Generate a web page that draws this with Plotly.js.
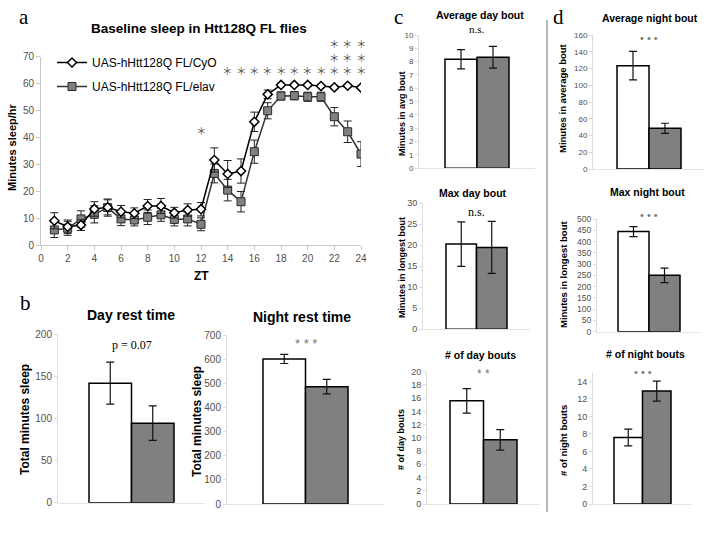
<!DOCTYPE html>
<html><head><meta charset="utf-8">
<script src="https://cdn.plot.ly/plotly-3.0.1.min.js"></script>
<style>body{margin:0;background:#fff;} #chart{width:720px;height:540px;}</style>
</head><body><div id="chart"></div>
<script>
// ---------- data: panel a ----------
const zt = [1,2,3,4,5,6,7,8,9,10,11,12,13,14,15,16,17,18,19,20,21,22,23,24];
const cyoMean = [9.0,6.8,7.4,13.4,14.0,12.4,11.8,14.5,14.5,12.0,13.0,13.3,31.6,26.4,27.5,45.8,56.0,59.5,59.5,59.5,59.1,58.6,59.2,58.5];
const cyoErr  = [3.0,2.5,2.0,2.7,2.8,2.3,2.0,2.4,2.8,2.0,2.3,2.5,4.5,5.0,4.5,3.6,1.6,0.6,0.6,0.6,0.6,0.6,0.5,0.6];
const elavMean = [5.6,6.2,9.7,11.4,13.9,9.7,9.3,10.3,11.2,9.5,9.7,7.7,26.6,20.4,16.1,34.7,49.9,55.4,55.5,55.1,55.1,47.7,42.1,33.8];
const elavErr  = [2.8,2.6,3.0,3.2,3.2,2.5,2.2,2.7,2.4,2.4,2.6,2.4,3.5,4.0,3.8,4.3,3.0,1.5,1.5,1.7,1.7,3.4,4.0,4.6];
const seriesNames = ['UAS-hHtt128Q FL/CyO', 'UAS-hHtt128Q FL/elav'];
const sigZT    = [12,14,15,16,17,18,19,20,21,22,23,24];
const sigStars = [1,1,1,1,1,1,1,1,1,3,3,3];

// ---------- data: bar panels b, c, d ----------
const panelTitles = ['Day rest time','Night rest time','Average day bout','Max day bout','# of day bouts','Average night bout','Max night bout','# of night bouts'];
const yTitles = ['Total minutes sleep','Total minutes sleep','Minutes in avg bout','Minutes in longest bout','# of day bouts','Minutes in average bout','Minutes in longest bout','# of night bouts'];
const cyoBar     = [142, 601, 8.18, 20.3, 15.6, 123.4, 444, 7.6];
const cyoBarErr  = [25, 19, 0.72, 5.3, 1.85, 17, 22, 0.95];
const elavBar    = [94.5, 486, 8.33, 19.5, 9.7, 48.6, 250, 12.9];
const elavBarErr = [20.5, 30, 0.81, 6.2, 1.55, 6, 32, 1.14];
const sigLabels  = ['p = 0.07','* * *','n.s.','n.s.','* *','• • •','• • •','• • •'];
const yMax  = [200, 700, 10, 30, 20, 160, 500, 15];
const yStep = [50, 100, 1, 5, 2, 20, 50, 2];

// ---------- layout geometry (pixels) ----------
const W = 720, H = 540;
const px = v => v / W, py = v => 1 - v / H;
const geo = [
  {ax:58,  L:89,  R:174, yb:502.7, yt:334.3, tx:131, ty:315, yx:25,  yy:420, sy:345, ts:14, ys:12, ks:10, sf:'serif', ss:12},
  {ax:227, L:263, R:348, yb:504,   yt:335,   tx:302, ty:317, yx:197, yy:422, sy:343, ts:14, ys:12, ks:10, sf:'sans', ss:13},
  {ax:419, L:445, R:509, yb:168.3, yt:35,    tx:480, ty:15,  yx:402, yy:114, sy:29,  ts:10.5, ys:9, ks:8, sf:'serif', ss:11},
  {ax:423, L:446, R:507, yb:329.3, yt:203.3, tx:473, ty:193, yx:402, yy:268, sy:212, ts:10.5, ys:9, ks:9, sf:'serif', ss:12},
  {ax:427, L:450, R:517, yb:504,   yt:371.7, tx:481, ty:355, yx:401, yy:440, sy:374, ts:10.5, ys:9, ks:9, sf:'sans', ss:12},
  {ax:593, L:617, R:681, yb:169,   yt:35,    tx:650, ty:18,  yx:563, yy:98,  sy:38,  ts:10.5, ys:9.5, ks:8, sf:'sans', ss:11},
  {ax:597, L:618, R:680, yb:331.7, yt:219,   tx:647, ty:192, yx:563, yy:275, sy:215, ts:10.5, ys:9.5, ks:8.5, sf:'sans', ss:11},
  {ax:593, L:614, R:671, yb:504,   yt:372.7, tx:645, ty:354, yx:563, yy:441, sy:372, ts:10.5, ys:9.5, ks:9, sf:'sans', ss:11}
];

const SANS = 'Liberation Sans, Arial, sans-serif';
const SERIF = 'Liberation Serif, Times New Roman, serif';
const CJK = 'Noto Sans CJK JP, DejaVu Sans, sans-serif';
const axisGray = '#c8c8c8';
const tickGray = '#505050';

const traces = [];
const layout = {
  width: W, height: H,
  margin: {l:0, r:0, t:0, b:0},
  paper_bgcolor: '#fff', plot_bgcolor: 'rgba(0,0,0,0)',
  font: {family: SANS, color: '#000'},
  showlegend: true,
  legend: {x: px(52), y: py(48), xanchor: 'left', yanchor: 'top', bgcolor: 'rgba(0,0,0,0)',
           font: {family: SANS, size: 12, color: '#000'}, itemwidth: 30, tracegroupgap: 5},
  annotations: [], shapes: []
};

// ---------- panel a ----------
traces.push({
  type: 'scatter', mode: 'lines+markers', x: zt, y: elavMean, name: seriesNames[1],
  xaxis: 'x', yaxis: 'y', legendgroup: 'g2', legendrank: 2,
  line: {color: '#333', width: 1.5},
  marker: {symbol: 'square', size: 8, color: '#808080', line: {color: '#2a2a2a', width: 1}},
  error_y: {type: 'data', array: elavErr, visible: true, color: '#222', thickness: 1, width: 4}
});
traces.push({
  type: 'scatter', mode: 'lines+markers', x: zt, y: cyoMean, name: seriesNames[0],
  xaxis: 'x', yaxis: 'y', legendgroup: 'g1', legendrank: 1,
  line: {color: '#000', width: 1.5},
  marker: {symbol: 'diamond', size: 7, color: '#fff', line: {color: '#000', width: 1.5}},
  error_y: {type: 'data', array: cyoErr, visible: true, color: '#222', thickness: 1, width: 4}
});
layout.xaxis = {domain: [px(41), px(361)], range: [0, 24], anchor: 'y', dtick: 2, tick0: 0,
  showline: true, linecolor: axisGray, ticks: 'outside', ticklen: 4, tickcolor: axisGray,
  showgrid: false, zeroline: false, tickfont: {size: 10, color: tickGray, family: SANS}};
layout.yaxis = {domain: [py(245), py(56.7)], range: [0, 70], anchor: 'x', dtick: 10,
  showline: true, linecolor: axisGray, ticks: 'outside', ticklen: 4, tickcolor: axisGray,
  showgrid: false, zeroline: false, tickfont: {size: 10, color: tickGray, family: SANS}};

layout.annotations.push({text: 'a', xref: 'paper', yref: 'paper', x: px(24), y: py(17), showarrow: false,
  xanchor: 'center', yanchor: 'middle', font: {family: SERIF, size: 21}});
layout.annotations.push({text: '<b>Baseline sleep in Htt128Q FL flies</b>', xref: 'paper', yref: 'paper',
  x: px(199), y: py(29), showarrow: false, xanchor: 'center', yanchor: 'middle', font: {family: SANS, size: 13.5}});
layout.annotations.push({text: '<b>Minutes sleep/hr</b>', xref: 'paper', yref: 'paper', x: px(12), y: py(147),
  textangle: -90, showarrow: false, xanchor: 'center', yanchor: 'middle', font: {family: SANS, size: 11}});
layout.annotations.push({text: '<b>ZT</b>', xref: 'paper', yref: 'paper', x: px(201), y: py(276),
  showarrow: false, xanchor: 'center', yanchor: 'middle', font: {family: SANS, size: 12}});
// significance stars over ZT: one text per column, stacked lines
sigZT.forEach((z, k) => {
  const n = sigStars[k];
  const lines = [];
  for (let r = 0; r < n; r++) lines.push('＊');
  const bottom = z === 12 ? 131 : 71;   // pixel centre of the lowest star
  layout.annotations.push({text: lines.join('<br>'), xref: 'x', yref: 'paper', x: z, y: py(bottom + 7.5),
    showarrow: false, xanchor: 'center', yanchor: 'bottom', borderpad: 0,
    font: {family: CJK, size: 10.5, color: '#555'}});
});

// ---------- bar panels ----------
geo.forEach((g, i) => {
  const n = i + 2;
  const w = (g.R - g.L) / 2;
  const gap = (g.L - g.ax) / w;
  const right = g.R + (g.L - g.ax);
  const xa = 'xaxis' + n, ya = 'yaxis' + n;
  traces.push({
    type: 'bar', x: [0, 1], y: [cyoBar[i], elavBar[i]], width: [1, 1],
    xaxis: 'x' + n, yaxis: 'y' + n, showlegend: false, hoverinfo: 'skip',
    marker: {color: ['#ffffff', '#808080'], line: {color: '#000', width: 1.5}},
    error_y: {type: 'data', array: [cyoBarErr[i], elavBarErr[i]], visible: true, color: '#111', thickness: 1.2, width: 4}
  });
  layout[xa] = {domain: [px(g.ax), px(right)], range: [-0.5 - gap, 1.5 + gap], anchor: 'y' + n,
    showticklabels: false, ticks: '', showgrid: false, zeroline: false, showline: true, linecolor: '#e4e4e4', fixedrange: true};
  layout[ya] = {domain: [py(g.yb), py(g.yt)], range: [0, yMax[i]], anchor: 'x' + n, dtick: yStep[i], tick0: 0,
    showline: true, linecolor: '#dcdcdc', ticks: 'outside', ticklen: 3, tickcolor: '#dcdcdc',
    showgrid: false, zeroline: false, tickfont: {size: g.ks, color: tickGray, family: SANS}};
  layout.annotations.push({text: '<b>' + panelTitles[i] + '</b>', xref: 'paper', yref: 'paper', x: px(g.tx), y: py(g.ty),
    showarrow: false, xanchor: 'center', yanchor: 'middle', borderpad: 0, font: {family: SANS, size: g.ts}});
  layout.annotations.push({text: '<b>' + yTitles[i] + '</b>', xref: 'paper', yref: 'paper', x: px(g.yx), y: py(g.yy),
    textangle: -90, showarrow: false, xanchor: 'center', yanchor: 'middle', font: {family: SANS, size: g.ys}});
  layout.annotations.push({text: sigLabels[i], xref: 'x' + n, yref: 'paper', x: 0.5, y: py(g.sy),
    showarrow: false, xanchor: 'center', yanchor: 'middle', borderpad: 0,
    font: {family: g.sf === 'serif' ? SERIF : SANS, size: g.ss, color: g.sf === 'serif' ? '#000' : '#777'}});
});

// panel letters
[['b', 25, 303], ['c', 398, 17], ['d', 558, 17]].forEach(([t, x, y]) => {
  layout.annotations.push({text: t, xref: 'paper', yref: 'paper', x: px(x), y: py(y), showarrow: false,
    xanchor: 'center', yanchor: 'middle', font: {family: SERIF, size: 21}});
});

// separator line between c and d
layout.shapes.push({type: 'line', xref: 'paper', yref: 'paper', x0: px(547), x1: px(547), y0: py(20), y1: py(512),
  line: {color: '#a0a0a0', width: 1.5}});

Plotly.newPlot('chart', traces, layout, {displayModeBar: false, staticPlot: true});
</script>
</body></html>
